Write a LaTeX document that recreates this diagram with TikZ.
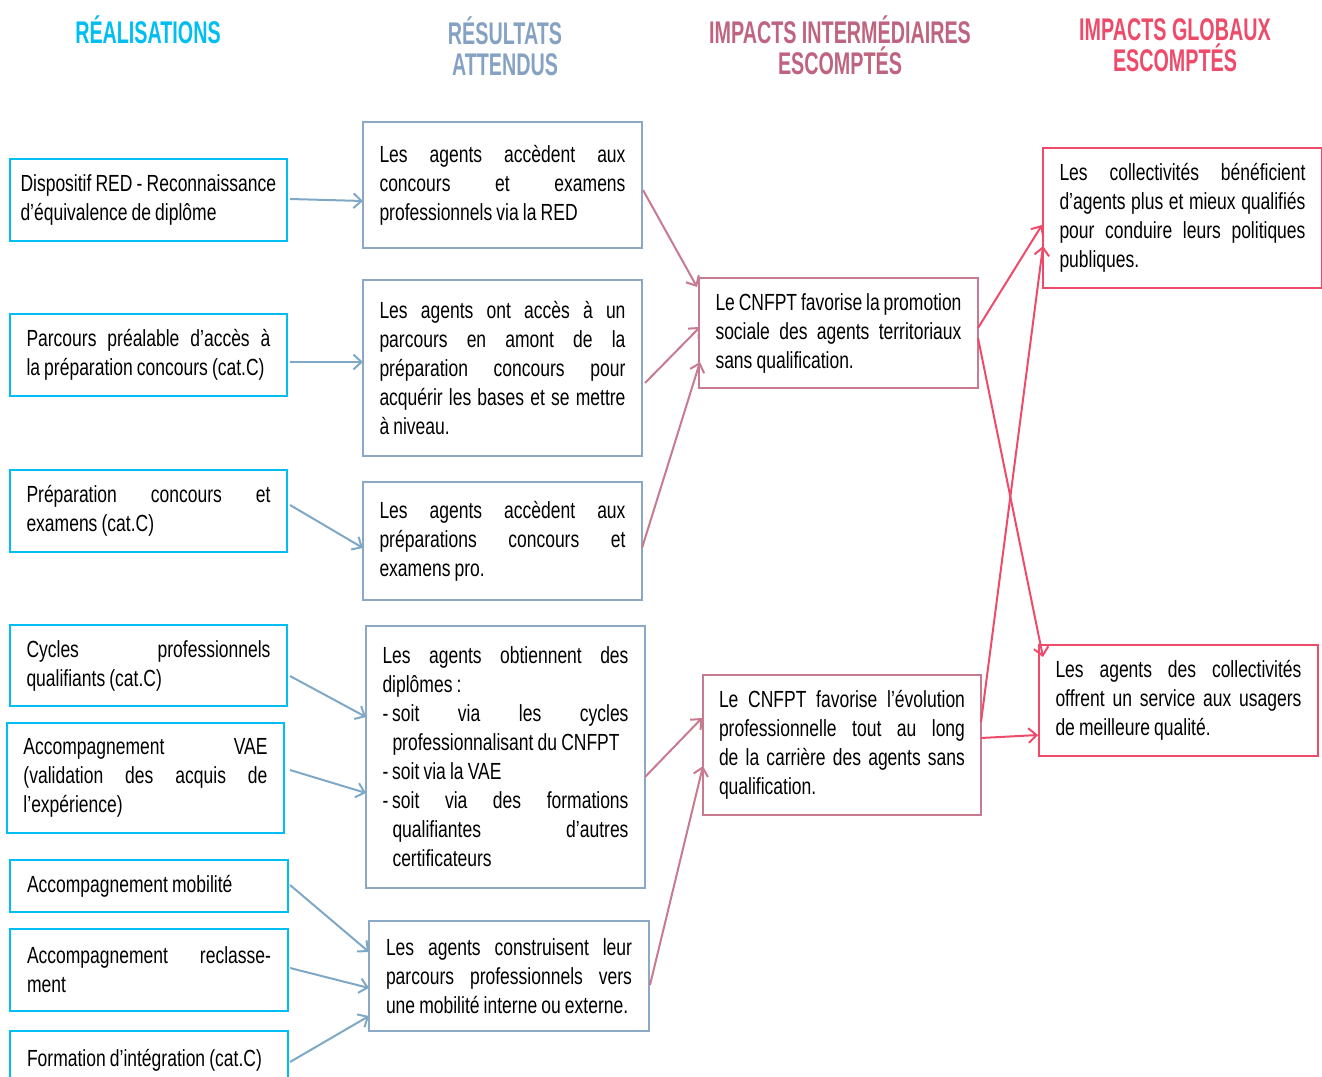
\documentclass[tikz,border=0pt]{standalone}
\usepackage{fontspec}
\setmainfont{Liberation Sans}[FakeStretch=0.75,WordSpace=0.85]
\newfontfamily\headfont{Liberation Sans}[FakeStretch=0.63]
\usetikzlibrary{arrows.meta,calc}
\setlength{\parindent}{0pt}
\tolerance=9999 \hbadness=10000 \hfuzz=20pt \hyphenpenalty=10000 \exhyphenpenalty=10000
\definecolor{cyanB}{HTML}{00BEF2}
\definecolor{steel}{HTML}{8CA8C7}
\definecolor{steelA}{HTML}{7FA8C6}
\definecolor{steelH}{HTML}{86A2C2}
\definecolor{mauve}{HTML}{C77A90}
\definecolor{mauveH}{HTML}{BF6480}
\definecolor{rose}{HTML}{EE4B6B}
\newcommand\bodyfont{\fontsize{17.5pt}{21.75pt}\selectfont}
\newcommand\hdfont{\headfont\bfseries\fontsize{23.5pt}{23.5pt}\selectfont}
\begin{document}
\begin{tikzpicture}[x=0.75pt,y=-0.75pt,
  box/.style={draw, line width=2.2pt, inner sep=0pt, outer sep=0pt, align=justify,
    text width=184.5pt, font=\bodyfont, text=black},
  rbox/.style={box, draw=cyanB, text width=183pt},
  cbox/.style={box, draw=steel},
  mbox/.style={box, draw=mauve},
  gbox/.style={box, draw=rose},
  hd/.style={font=\hdfont, align=center, inner sep=0pt},
  arr/.style={line width=1.5pt, -{Straight Barb[length=6pt,width=11pt]}},
  arrA/.style={arr, draw=steelA},
  arrB/.style={arr, draw=mauve},
  arrC/.style={arr, draw=rose}]
\useasboundingbox (0,0) rectangle (1322,1077);
\clip (0,0) rectangle (1322,1077);

% headers
\node[hd, text=cyanB] (h1) at (148,30) {RÉALISATIONS};
\node[hd, text=steelH] (h2) at (505,46) {RÉSULTATS\\ATTENDUS};
\node[hd, text=mauveH] (h3) at (840,45) {IMPACTS INTERMÉDIAIRES\\ESCOMPTÉS};
\node[hd, text=rose] (h4) at (1175,45) {IMPACTS GLOBAUX\\ESCOMPTÉS};

% column 1
\node[rbox, text width=192pt, minimum width=207.75pt, minimum height=61.5pt] (r1) at (148.5,200)
  {\mbox{Dispositif RED - Reconnaissance}\linebreak d’équivalence de diplôme};
\node[rbox, minimum width=207.75pt, minimum height=61.5pt] (r2) at (148.5,355)
  {Parcours préalable d’accès à\linebreak la préparation concours (cat.C)};
\node[rbox, minimum width=207.75pt, minimum height=61.5pt] (r3) at (148.5,511)
  {Préparation concours et\linebreak examens (cat.C)};
\node[rbox, minimum width=207.75pt, minimum height=60.75pt] (r4) at (148.5,665.5)
  {Cycles professionnels\linebreak qualifiants (cat.C)};
\node[rbox, minimum width=207.75pt, minimum height=82.5pt] (r5) at (145.5,778)
  {Accompagnement VAE\linebreak (validation des acquis de\linebreak l’expérience)};
\node[rbox, minimum width=208.5pt, minimum height=39pt] (r6) at (149,886)
  {Accompagnement mobilité};
\node[rbox, minimum width=208.5pt, minimum height=61.5pt] (r7) at (149,970)
  {Accompagnement reclasse-\linebreak ment};
\node[rbox, minimum width=208.5pt, minimum height=44.25pt] (r8) at (149,1060.5)
  {Formation d’intégration (cat.C)};

% column 2
\node[cbox, minimum width=209.25pt, minimum height=94.5pt] (c1) at (502.5,185)
  {Les agents accèdent aux\linebreak concours et examens\linebreak professionnels via la RED};
\node[cbox, minimum width=209.25pt, minimum height=132pt] (c2) at (502.5,368)
  {Les agents ont accès à un\linebreak parcours en amont de la\linebreak préparation concours pour\linebreak acquérir les bases et se mettre\linebreak à niveau.};
\node[cbox, minimum width=209.25pt, minimum height=88.5pt] (c3) at (502.5,541)
  {Les agents accèdent aux\linebreak préparations concours et\linebreak examens pro.};
\node[cbox, minimum width=209.25pt, minimum height=196.5pt] (c4) at (505.5,757)
  {Les agents obtiennent des\linebreak diplômes :\par
   \hangindent=7.5pt\hangafter=1 -\,soit via les cycles\linebreak professionnalisant du CNFPT\par
   \hangindent=7.5pt\hangafter=1 -\,soit via la VAE\par
   \hangindent=7.5pt\hangafter=1 -\,soit via des formations\linebreak qualifiantes d’autres\linebreak certificateurs\par};
\node[cbox, minimum width=210pt, minimum height=82.5pt] (c5) at (509,976)
  {Les agents construisent leur\linebreak parcours professionnels vers\linebreak une mobilité interne ou externe.};

% column 3
\node[mbox, minimum width=209.25pt, minimum height=82.5pt] (m1) at (838.5,333)
  {Le CNFPT favorise la promotion\linebreak sociale des agents territoriaux\linebreak sans qualification.};
\node[mbox, minimum width=208.5pt, minimum height=105pt] (m2) at (842,745)
  {Le CNFPT favorise l’évolution\linebreak professionnelle tout au long\linebreak de la carrière des agents sans\linebreak qualification.};

% column 4
\node[gbox, minimum width=209.25pt, minimum height=105pt] (g1) at (1182.5,218)
  {Les collectivités bénéficient\linebreak d’agents plus et mieux qualifiés\linebreak pour conduire leurs politiques\linebreak publiques.};
\node[gbox, minimum width=209.25pt, minimum height=83.25pt] (g2) at (1178.5,700.5)
  {Les agents des collectivités\linebreak offrent un service aux usagers\linebreak de meilleure qualité.};

% arrows column 1 -> column 2
\draw[arrA] ($(r1.north east)+(3,40)$) -- ($(c1.north west)+(0,79)$);
\draw[arrA] ($(r2.north east)+(3,48)$) -- ($(c2.north west)+(0,82)$);
\draw[arrA] ($(r3.north east)+(3,35)$) -- ($(c3.north west)+(0,66)$);
\draw[arrA] ($(r4.north east)+(3,51)$) -- ($(c4.north west)+(0,91)$);
\draw[arrA] ($(r5.north east)+(6,47)$) -- ($(c4.north west)+(0,167)$);
\draw[arrA] ($(r6.north east)+(2,25)$) -- ($(c5.north west)+(0,31)$);
\draw[arrA] ($(r7.north east)+(2,39)$) -- ($(c5.north west)+(0,67)$);
\draw[arrA] ($(r8.north east)+(2,31)$) -- ($(c5.north west)+(0,95)$);

% arrows column 2 -> column 3
\draw[arrB] ($(c1.north east)+(1,68)$) -- ($(m1.north west)+(-2,9)$);
\draw[arrB] ($(c2.north east)+(3,103)$) -- ($(m1.north west)+(1,49)$);
\draw[arrB] ($(c3.north east)+(0,66)$) -- ($(m1.north west)+(1,84)$);
\draw[arrB] ($(c4.north east)+(0,151)$) -- ($(m2.north west)+(-1,43)$);
\draw[arrB] ($(c5.north east)+(1,64)$) -- ($(m2.north west)+(0,91)$);

% arrows column 3 -> column 4
\draw[arrC] ($(m1.north east)+(0,50)$) -- ($(g1.north west)+(-1,77)$);
\draw[arrC] ($(m1.north east)+(0,60)$) -- ($(g2.north west)+(4,12)$);
\draw[arrC] ($(m2.north east)+(0,47)$) -- ($(g1.north west)+(0,98)$);
\draw[arrC] ($(m2.north east)+(0,63)$) -- ($(g2.north west)+(-1,90)$);
\end{tikzpicture}
\end{document}
